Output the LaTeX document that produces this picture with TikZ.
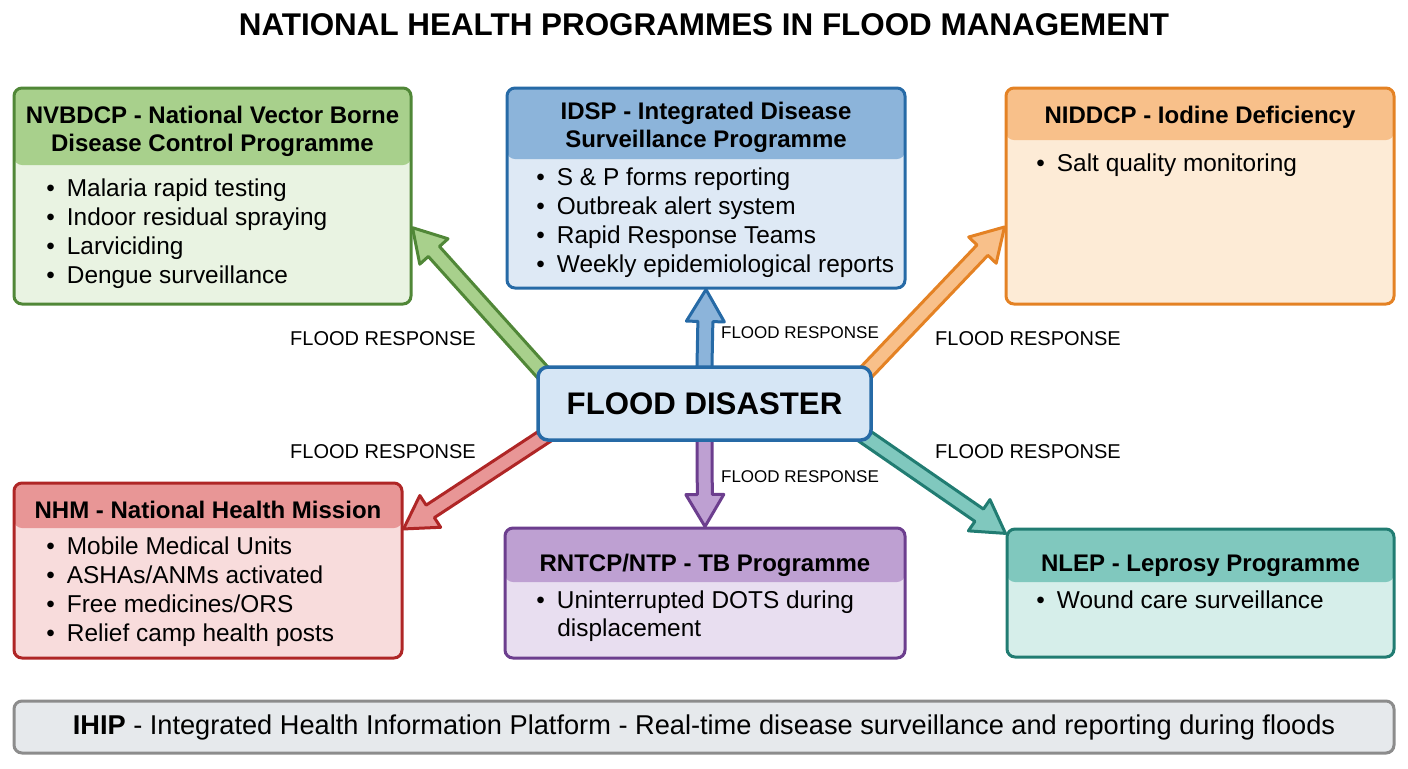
\documentclass[tikz,border=0pt]{standalone}
\usepackage{fontspec}
\setmainfont{Liberation Sans}
\usepackage{tikz}
\usetikzlibrary{calc,backgrounds}

\definecolor{grnD}{RGB}{80,135,55}
\definecolor{grnH}{RGB}{168,208,140}
\definecolor{grnL}{RGB}{233,243,226}
\definecolor{bluD}{RGB}{38,106,166}
\definecolor{bluH}{RGB}{140,180,218}
\definecolor{bluL}{RGB}{222,233,245}
\definecolor{orgD}{RGB}{228,130,36}
\definecolor{orgH}{RGB}{248,192,138}
\definecolor{orgL}{RGB}{253,235,214}
\definecolor{redD}{RGB}{175,38,38}
\definecolor{redH}{RGB}{232,150,150}
\definecolor{redL}{RGB}{248,220,220}
\definecolor{purD}{RGB}{108,62,142}
\definecolor{purH}{RGB}{190,160,210}
\definecolor{purL}{RGB}{232,222,240}
\definecolor{tealD}{RGB}{33,124,114}
\definecolor{tealH}{RGB}{128,200,190}
\definecolor{tealL}{RGB}{214,238,234}
\definecolor{floodL}{RGB}{214,230,245}
\definecolor{ihipD}{RGB}{140,140,140}
\definecolor{ihipL}{RGB}{230,233,236}

\newcommand{\itm}{\textbullet\hspace{6pt}}
% block arrow: from, to, colour prefix
\newcommand{\flowarrow}[3]{%
  \coordinate (fa-s) at ($(#1)!-10pt!(#2)$);
  \coordinate (fa-t) at (#2);
  \coordinate (fa-n) at ($(fa-t)!16pt!(fa-s)$);
  \filldraw[#3D, fill=#3H, line width=1.5pt, line join=round]
    ($(fa-s)!3.75pt!90:(fa-t)$) -- ($(fa-n)!3.75pt!90:(fa-t)$)
    -- ($(fa-n)!9.5pt!90:(fa-t)$) -- (fa-t) -- ($(fa-n)!9.5pt!-90:(fa-t)$)
    -- ($(fa-n)!3.75pt!-90:(fa-t)$) -- ($(fa-s)!3.75pt!-90:(fa-t)$) -- cycle;}

\tikzset{
  prog/.style 2 args={draw=#1D, fill=#1L, line width=1.5pt, rounded corners=4pt, inner sep=0pt,
    path picture={\fill[#1H] (path picture bounding box.north west)
      rectangle ([yshift=-#2]path picture bounding box.north east);}},
  head/.style={font=\bfseries\fontsize{12}{14}\selectfont, align=center, inner sep=0pt},
  item/.style={anchor=west, inner sep=0pt, text height=8.6pt, text depth=0pt,
    font=\fontsize{12.2}{14}\selectfont},
  lbl/.style={font=\fontsize{10}{12}\selectfont, inner sep=0pt},
  lblsm/.style={font=\fontsize{8.5}{10}\selectfont, inner sep=0pt}
}

\begin{document}
\begin{tikzpicture}[x=0.5pt, y=-0.5pt]
  \useasboundingbox (0,0) rectangle (1408,768);
  \node[font=\bfseries\fontsize{15.7}{18}\selectfont] (title) at (704,25)
    {NATIONAL HEALTH PROGRAMMES IN FLOOD MANAGEMENT};

  % programme boxes
  \node[prog={grn}{38.5pt}, minimum width=198.5pt, minimum height=108pt] (nvb) at (212.5,196) {};
  \node[prog={blu}{35.5pt}, minimum width=199pt, minimum height=100pt] (idsp) at (706,188) {};
  \node[prog={org}{26pt}, minimum width=194pt, minimum height=108pt] (nid) at (1200,196) {};
  \node[prog={red}{22.5pt}, minimum width=194pt, minimum height=87.5pt] (nhm) at (208,570.5) {};
  \node[prog={pur}{27pt}, minimum width=200pt, minimum height=65pt] (tb) at (705,593) {};
  \node[prog={teal}{26.5pt}, minimum width=193.5pt, minimum height=64pt] (nlep) at (1200.5,593) {};

  \node[head] (nvb-h) at ($(nvb.north)+(0,44.5)$) {NVBDCP - National Vector Borne\\Disease Control Programme};
  \node[head] (idsp-h) at ($(idsp.north)+(0,40.5)$) {IDSP - Integrated Disease\\Surveillance Programme};
  \node[head] (nid-h) at ($(nid.north)+(0,31)$) {NIDDCP - Iodine Deficiency};
  \node[head] (nhm-h) at ($(nhm.north)+(0,28.5)$) {NHM - National Health Mission};
  \node[head] (tb-h) at ($(tb.north)+(0,39)$) {RNTCP/NTP - TB Programme};
  \node[head] (nlep-h) at ($(nlep.north)+(0,38)$) {NLEP - Leprosy Programme};

  \foreach \t [count=\i] in {Malaria rapid testing, Indoor residual spraying, Larviciding, Dengue surveillance}
    \node[item] (nvb-\i) at (46,159+29*\i) {\itm\t};
  \foreach \t [count=\i] in {S \& P forms reporting, Outbreak alert system, Rapid Response Teams, Weekly epidemiological reports}
    \node[item] (idsp-\i) at (536,148+29*\i) {\itm\t};
  \node[item] (nid-1) at (1036,163) {\itm Salt quality monitoring};
  \foreach \t [count=\i] in {Mobile Medical Units, ASHAs/ANMs activated, Free medicines/ORS, Relief camp health posts}
    \node[item] (nhm-\i) at (46,517+29*\i) {\itm\t};
  \node[item] (tb-1) at (536,600) {\itm Uninterrupted DOTS during};
  \node[item] (tb-2) at (557,628) {displacement};
  \node[item] (nlep-1) at (1036,600) {\itm Wound care surveillance};

  % centre
  \node[draw=bluD, fill=floodL, line width=1.75pt, rounded corners=5pt, minimum width=166.5pt,
    minimum height=36.5pt, font=\bfseries\fontsize{15.6}{18}\selectfont] (flood) at (704.5,403.5) {FLOOD DISASTER};

  \begin{pgfonlayer}{background}
    \flowarrow{flood.north west}{nvb.-9}{grn}
    \flowarrow{flood.north}{idsp.south}{blu}
    \flowarrow{flood.north east}{nid.189}{org}
    \flowarrow{flood.south west}{nhm.12}{red}
    \flowarrow{flood.south}{tb.north}{pur}
    \flowarrow{flood.south east}{nlep.163}{teal}
  \end{pgfonlayer}

  \node[lbl] (l-nvb) at (383,339) {FLOOD RESPONSE};
  \node[lblsm] (l-idsp) at (800,333) {FLOOD RESPONSE};
  \node[lbl] (l-nid) at (1028,339) {FLOOD RESPONSE};
  \node[lbl] (l-nhm) at (383,452) {FLOOD RESPONSE};
  \node[lblsm] (l-tb) at (800,477) {FLOOD RESPONSE};
  \node[lbl] (l-nlep) at (1028,452) {FLOOD RESPONSE};

  \node[draw=ihipD, fill=ihipL, line width=1.5pt, rounded corners=4pt, minimum width=690pt,
    minimum height=26pt, font=\fontsize{13.6}{15}\selectfont] (ihip) at (704,727)
    {\textbf{IHIP} - Integrated Health Information Platform - Real-time disease surveillance and reporting during floods};
\end{tikzpicture}
\end{document}
